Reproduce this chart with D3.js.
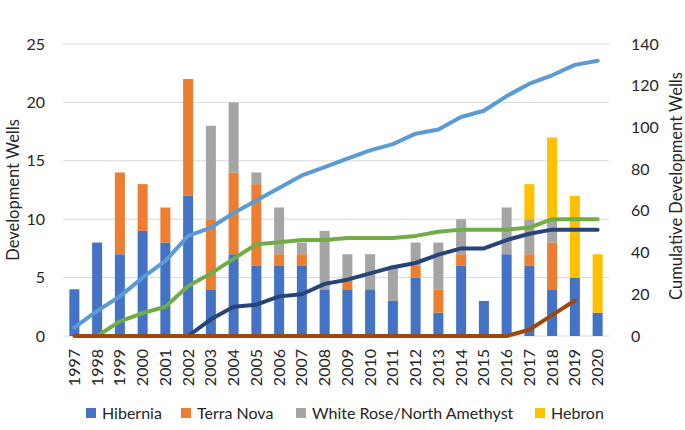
<!DOCTYPE html>
<html><head><meta charset="utf-8">
<script src="https://cdn.jsdelivr.net/npm/d3@7"></script>
<style>body{margin:0;background:#fff;} svg{display:block;font-family:Lato, "Open Sans", sans-serif;}</style>
</head><body>
<svg id="chart" width="685" height="430"></svg>
<script>
const years = ["1997","1998","1999","2000","2001","2002","2003","2004","2005","2006","2007","2008","2009","2010","2011","2012","2013","2014","2015","2016","2017","2018","2019","2020"];
const hibernia  = [4,8,7,9,8,12,4,7,6,6,6,4,4,4,3,5,2,6,3,7,6,4,5,2];
const terraNova = [0,0,7,4,3,10,6,7,7,1,1,0,1,0,0,1,2,1,0,0,1,4,0,0];
const whiteRose = [0,0,0,0,0,0,8,6,1,4,1,5,2,3,3,2,4,3,0,4,3,2,0,0];
const hebron    = [0,0,0,0,0,0,0,0,0,0,0,0,0,0,0,0,0,0,0,0,3,7,7,5];
// cumulative lines (right axis)
const cumHibernia  = [4,12,19,28,36,48,52,59,65,71,77,81,85,89,92,97,99,105,108,115,121,125,130,132];
const cumTerraNova = [null,0,7,11,14,24,30,37,44,45,46,46,47,47,47,48,50,51,51,51,52,56,56,56];
const cumWhiteRose = [null,null,null,null,null,0,8,14,15,19,20,25,27,30,33,35,39,42,42,46,49,51,51,51];
const cumHebron    = [0,0,0,0,0,0,0,0,0,0,0,0,0,0,0,0,0,0,0,0,3,10,17,null];
const leftTicks = [0,5,10,15,20,25];
const rightTicks = [0,20,40,60,80,100,120,140];
const seriesNames = ["Hibernia","Terra Nova","White Rose/North Amethyst","Hebron"];
const barColors = ["#4472C4","#ED7D31","#A5A5A5","#FFC000"];
const lineColors = ["#5B9BD5","#70AD47","#264478","#9E480E"];

const svg = d3.select("#chart");
const m = {l:63, r:76, t:44, b:94};
const W = 685, H = 430;
const x = d3.scaleBand().domain(years).range([m.l, W - m.r]).paddingInner(0.56).paddingOuter(0.28);
const yL = d3.scaleLinear().domain([0,25]).range([H - m.b, m.t]);
const yR = d3.scaleLinear().domain([0,140]).range([H - m.b, m.t]);

// gridlines
svg.append("g").selectAll("line").data(leftTicks).join("line")
  .attr("x1", m.l).attr("x2", W - m.r)
  .attr("y1", d => yL(d)).attr("y2", d => yL(d))
  .attr("stroke", "#d9d9d9").attr("stroke-width", 1);

// stacked bars
const table = years.map((y,i) => ({year:y, s0:hibernia[i], s1:terraNova[i], s2:whiteRose[i], s3:hebron[i]}));
const stack = d3.stack().keys(["s0","s1","s2","s3"])(table);
svg.append("g").selectAll("g").data(stack).join("g")
  .attr("fill", (d,i) => barColors[i])
  .selectAll("rect").data(d => d).join("rect")
  .attr("x", d => x(d.data.year))
  .attr("width", x.bandwidth())
  .attr("y", d => yL(d[1]))
  .attr("height", d => yL(d[0]) - yL(d[1]));

// lines
const lineGen = d3.line().defined(d => d != null)
  .x((d,i) => x(years[i]) + x.bandwidth()/2)
  .y(d => yR(d));
const lineData = [cumHibernia, cumTerraNova, cumWhiteRose, cumHebron];
svg.append("g").selectAll("path").data(lineData).join("path")
  .attr("d", d => lineGen(d))
  .attr("fill","none")
  .attr("stroke", (d,i) => lineColors[i])
  .attr("stroke-width", 4)
  .attr("stroke-linejoin","round")
  .attr("stroke-linecap","round");

const txtColor = "#262626";
// left axis labels
const axL = d3.axisLeft(yL).tickValues(leftTicks).tickSize(0).tickPadding(0);
const gL = svg.append("g").attr("transform", `translate(${m.l - 18},0)`).call(axL);
gL.select(".domain").remove();
gL.selectAll("text").attr("font-size", 16).attr("fill", txtColor).attr("font-family","Lato, sans-serif");

const axR = d3.axisRight(yR).tickValues(rightTicks).tickSize(0).tickPadding(0);
const gR = svg.append("g").attr("transform", `translate(${W - m.r + 22},0)`).call(axR);
gR.select(".domain").remove();
gR.selectAll("text").attr("font-size", 16).attr("fill", txtColor).attr("font-family","Lato, sans-serif");

// x axis labels
const axX = d3.axisBottom(x).tickSize(0).tickPadding(0);
const gX = svg.append("g").attr("transform", `translate(0,${H - m.b})`).call(axX);
gX.select(".domain").remove();
gX.selectAll("text")
  .attr("font-size", 16).attr("fill", txtColor).attr("font-family","Lato, sans-serif")
  .attr("transform", "rotate(-90)")
  .attr("text-anchor", "end")
  .attr("x", -13).attr("y", 0).attr("dy", "0.35em");

// axis titles
svg.append("text").attr("transform", `translate(19,190) rotate(-90)`)
  .attr("text-anchor","middle").attr("font-size", 16.5).attr("fill",txtColor)
  .text("Development Wells");
svg.append("text").attr("transform", `translate(676,186) rotate(-90)`)
  .attr("text-anchor","middle").attr("font-size", 16.5).attr("fill",txtColor).attr("dy","0.35em")
  .text("Cumulative Development Wells");

// legend
const legendX = [86, 181, 296, 535];
const lg = svg.append("g").selectAll("g").data(seriesNames).join("g")
  .attr("transform", (d,i) => `translate(${legendX[i]},413)`);
lg.append("rect").attr("x",0).attr("y",-5).attr("width",10).attr("height",10).attr("fill",(d,i)=>barColors[i]);
lg.append("text").attr("x",16).attr("y",0).attr("dy","0.35em").attr("font-size",16).attr("fill",txtColor).text(d=>d);
</script>
</body></html>
